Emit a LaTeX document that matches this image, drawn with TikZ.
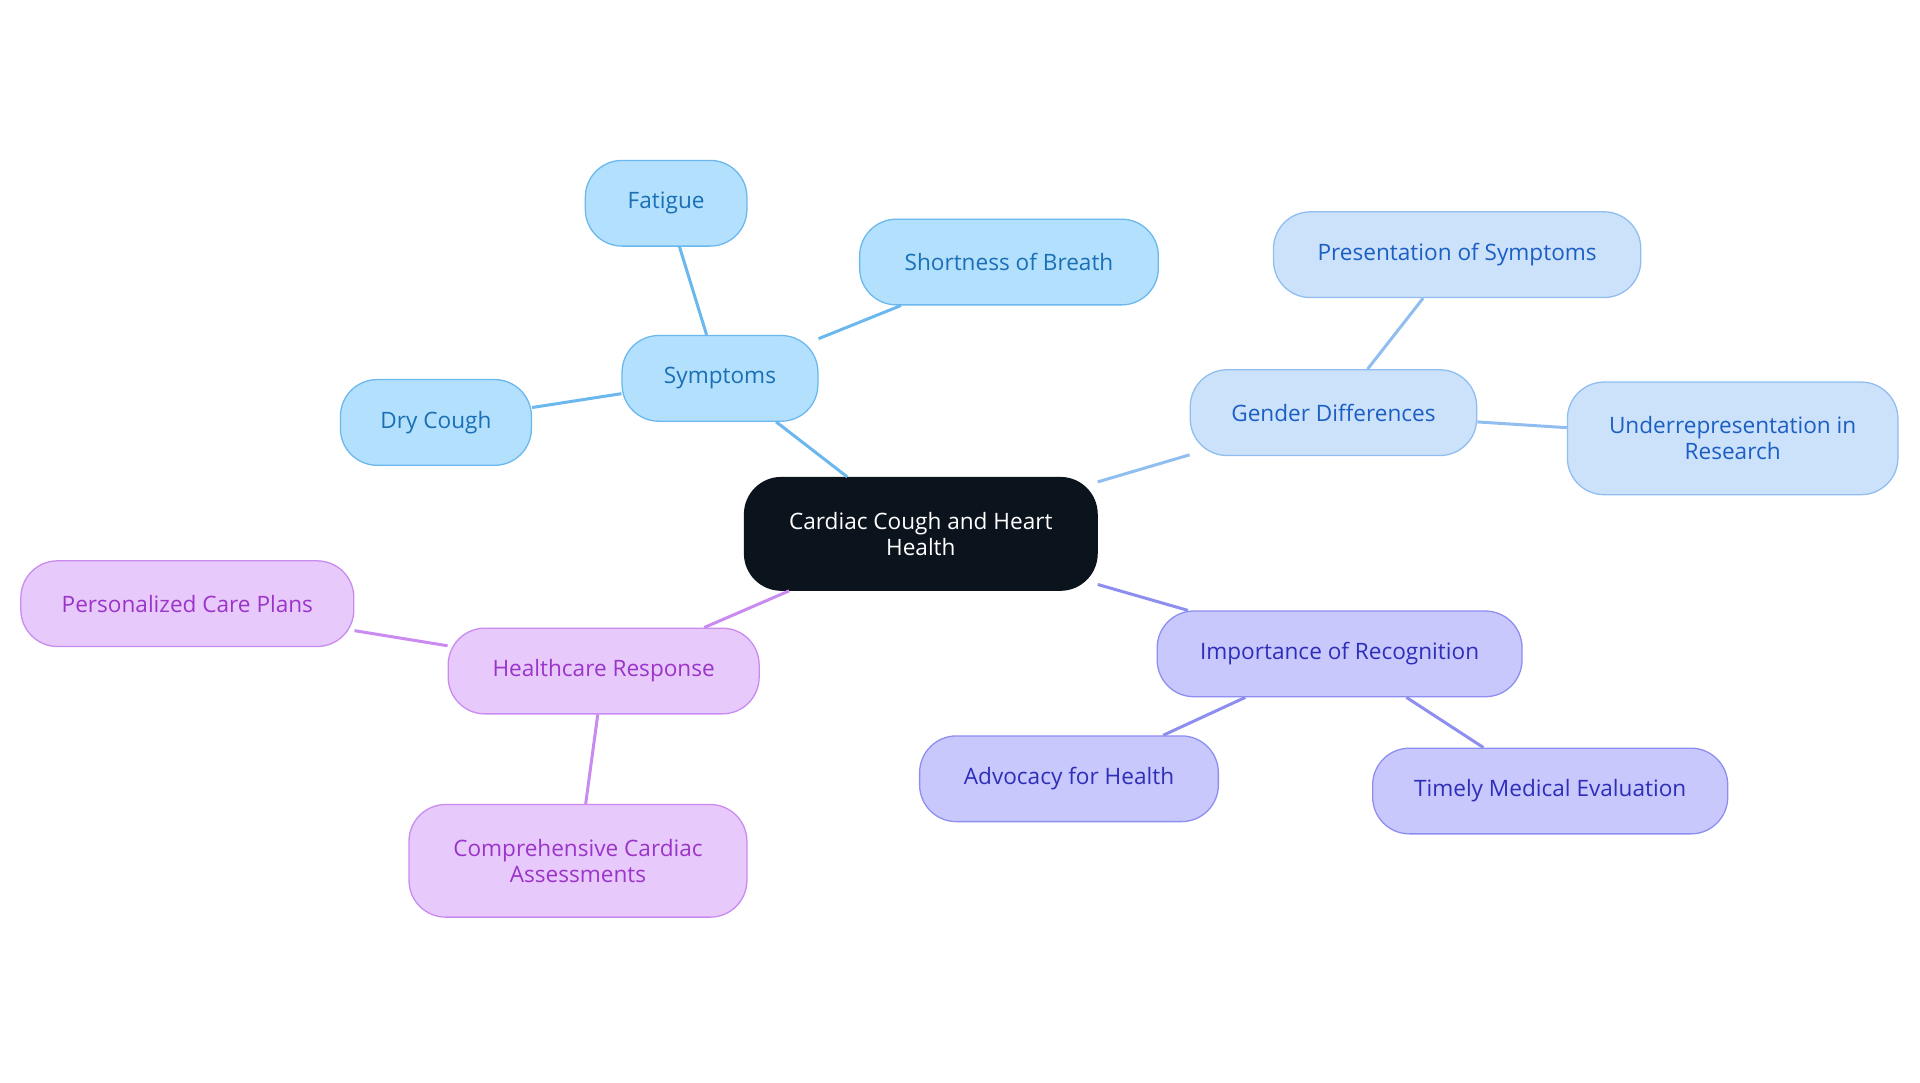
\documentclass[tikz,border=0pt]{standalone}
\usepackage{fontspec}
\setmainfont{Open Sans}
\usepackage{tikz}
\definecolor{rootfill}{HTML}{0B131C}
\definecolor{symfill}{HTML}{B3E0FD}\definecolor{symline}{HTML}{6BB8EE}\definecolor{symtext}{HTML}{1A6FB5}
\definecolor{genfill}{HTML}{CCE1FA}\definecolor{genline}{HTML}{90BEF0}\definecolor{gentext}{HTML}{1B5FC2}
\definecolor{impfill}{HTML}{C8C8FD}\definecolor{impline}{HTML}{8E8EF0}\definecolor{imptext}{HTML}{2E2EB8}
\definecolor{hcrfill}{HTML}{E8C9FB}\definecolor{hcrline}{HTML}{C98BEF}\definecolor{hcrtext}{HTML}{9B35C9}
\tikzset{
  box/.style={draw, rounded corners=0.6cm, align=center, font=\fontsize{10.5}{12}\selectfont, line width=0.6pt},
  sym/.style={box, fill=symfill, draw=symline, text=symtext},
  gen/.style={box, fill=genfill, draw=genline, text=gentext},
  imp/.style={box, fill=impfill, draw=impline, text=imptext},
  hcr/.style={box, fill=hcrfill, draw=hcrline, text=hcrtext},
  link/.style={line width=1.4pt}
}
\begin{document}
\begin{tikzpicture}[x=0.02cm, y=-0.02cm]
		\useasboundingbox (0,0) rectangle (1568,884);

		% centre
		\node [box, fill=rootfill, draw=rootfill, text=white, minimum width=5.76cm, minimum height=1.84cm] (root) at (752,436) {Cardiac Cough and Heart\\Health};

		% symptoms
		\node [sym, minimum width=3.2cm, minimum height=1.4cm] (symptoms) at (588,309) {Symptoms};
		\node [sym, minimum width=2.64cm, minimum height=1.4cm] (fatigue) at (544,166) {Fatigue};
		\node [sym, minimum width=4.88cm, minimum height=1.4cm] (breath) at (824,214) {Shortness of Breath};
		\node [sym, minimum width=3.12cm, minimum height=1.4cm] (cough) at (356,345) {Dry Cough};

		% gender
		\node [gen, minimum width=4.68cm, minimum height=1.4cm] (gender) at (1089,337) {Gender Differences};
		\node [gen, minimum width=6cm, minimum height=1.4cm] (presentation) at (1190,208) {Presentation of Symptoms};
		\node [gen, minimum width=5.4cm, minimum height=1.84cm] (research) at (1415,358) {Underrepresentation in\\Research};

		% recognition
		\node [imp, minimum width=5.96cm, minimum height=1.4cm] (recognition) at (1094,534) {Importance of Recognition};
		\node [imp, minimum width=4.88cm, minimum height=1.4cm] (advocacy) at (873,636) {Advocacy for Health};
		\node [imp, minimum width=5.8cm, minimum height=1.4cm] (evaluation) at (1266,646) {Timely Medical Evaluation};

		% healthcare
		\node [hcr, minimum width=5.08cm, minimum height=1.4cm] (response) at (493,548) {Healthcare Response};
		\node [hcr, minimum width=5.44cm, minimum height=1.4cm] (plans) at (153,493) {Personalized Care Plans};
		\node [hcr, minimum width=5.52cm, minimum height=1.84cm] (assess) at (472,703) {Comprehensive Cardiac\\Assessments};

		\draw [link, symline] (root) -- (symptoms);
		\draw [link, symline] (symptoms) -- (fatigue);
		\draw [link, symline] (symptoms) -- (breath);
		\draw [link, symline] (symptoms) -- (cough);
		\draw [link, genline] (root) -- (gender);
		\draw [link, genline] (gender) -- (presentation);
		\draw [link, genline] (gender) -- (research);
		\draw [link, impline] (root) -- (recognition);
		\draw [link, impline] (recognition) -- (advocacy);
		\draw [link, impline] (recognition) -- (evaluation);
		\draw [link, hcrline] (root) -- (response);
		\draw [link, hcrline] (response) -- (plans);
		\draw [link, hcrline] (response) -- (assess);

	\end{tikzpicture}
\end{document}
